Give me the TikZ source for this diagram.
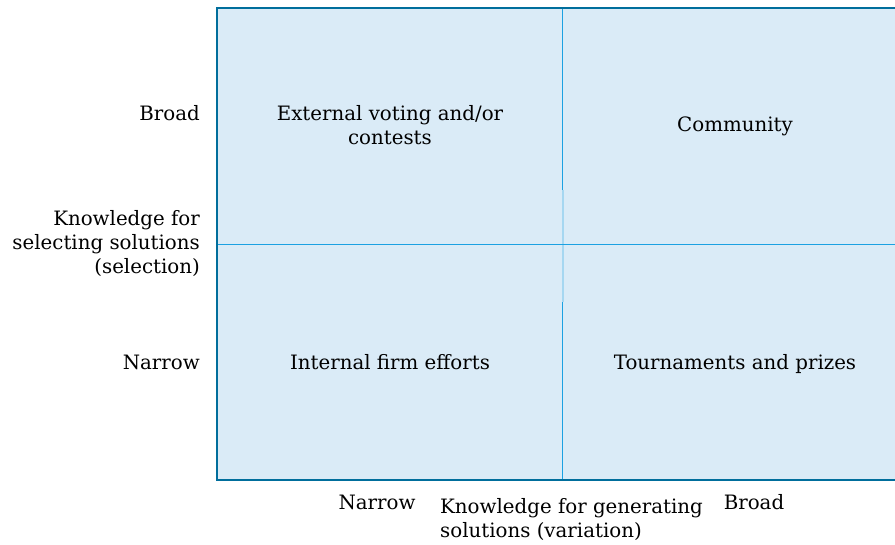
\documentclass[tikz,border=0pt]{standalone}
\usepackage{fontspec}
\setmainfont{DejaVu Serif}
\definecolor{cellfill}{HTML}{DAEBF7}
\definecolor{frameblue}{HTML}{006E9C}
\definecolor{divblue}{HTML}{1BA1E2}
\definecolor{paleblue}{HTML}{A6D7F1}
\tikzset{
  lbl/.style={font=\fontsize{19.8}{24}\selectfont, inner sep=0pt, text=black},
  lblone/.style={lbl, text height=14pt, text depth=4pt},
}
\begin{document}
\begin{tikzpicture}[x=1pt,y=-1pt]
\useasboundingbox (0,0) rectangle (895,544);
\fill[cellfill] (217,8) rectangle (897,480);
\draw[divblue, line width=1pt] (562,8) -- (562,480);
\draw[paleblue, line width=1.5pt] (562.8,190) -- (562.8,302);
\draw[divblue, line width=1pt] (217,244) -- (897,244);
\draw[frameblue, line width=2pt] (897,8) -- (217,8) -- (217,480) -- (897,480);
\node[lblone, anchor=east] (ybroad) at (200,115) {Broad};
\node[lbl, anchor=east, align=right] (ytitle) at (200,244) {Knowledge for\\selecting solutions\\(selection)};
\node[lblone, anchor=east] (ynarrow) at (200,364) {Narrow};
\node[lbl, align=center] (c11) at (390,125) {External voting and/or\\contests};
\node[lblone] (c12) at (735,126) {Community};
\node[lblone] (c21) at (390,364) {Internal firm efforts};
\node[lblone] (c22) at (735,364) {Tournaments and prizes};
\node[lblone] (xnarrow) at (377,504) {Narrow};
\node[lbl, anchor=west, align=left] (xtitle) at (440,520) {Knowledge for generating\\solutions (variation)};
\node[lblone] (xbroad) at (754,504) {Broad};
\end{tikzpicture}
\end{document}
